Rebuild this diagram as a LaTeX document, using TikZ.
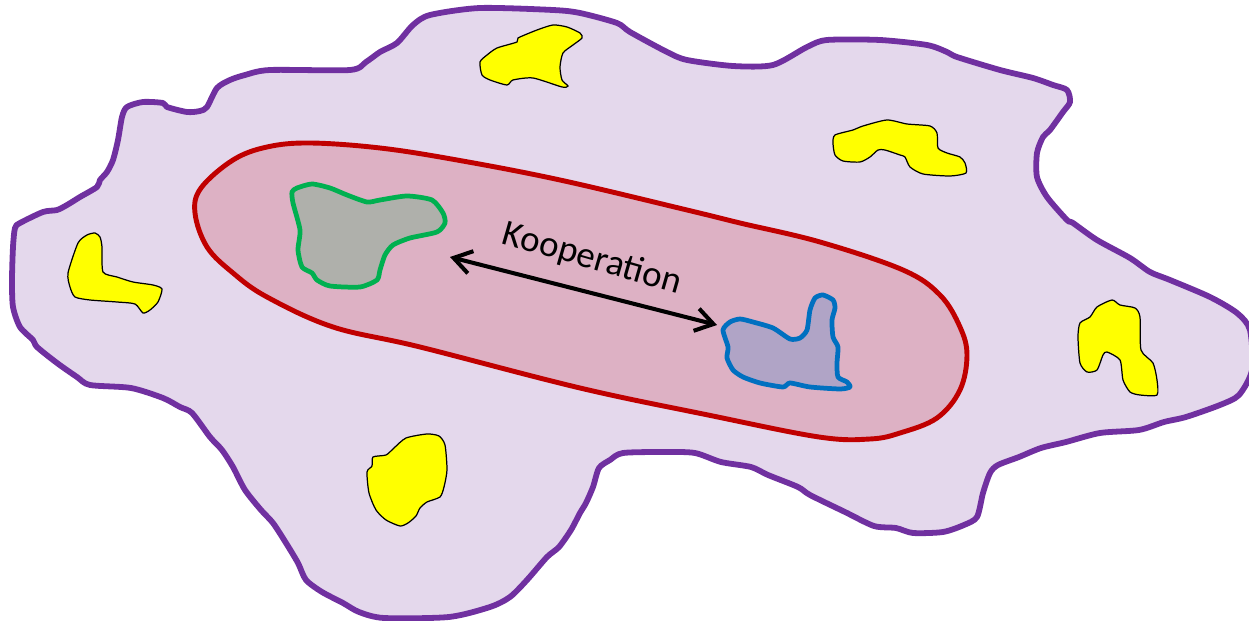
\documentclass[tikz,border=0pt]{standalone}
\usepackage{fontspec}
\setmainfont{Carlito}
\usetikzlibrary{arrows.meta}
\definecolor{outerfill}{HTML}{E4D8EC}
\definecolor{outerline}{HTML}{7030A0}
\definecolor{redfill}{HTML}{DDB1C4}
\definecolor{redline}{HTML}{C00000}
\definecolor{greenline}{HTML}{00B050}
\definecolor{greenfill}{HTML}{AFB0AB}
\definecolor{blueline}{HTML}{0070C0}
\definecolor{bluefill}{HTML}{B0A4C6}
\definecolor{yel}{HTML}{FFFF00}
\tikzset{
  outerarea/.style={fill=outerfill,draw=outerline,line width=3.3pt,line join=round},
  cooparea/.style={fill=redfill,draw=redline,line width=2.8pt},
  greenblob/.style={fill=greenfill,draw=greenline,line width=2.7pt,line join=round},
  blueblob/.style={fill=bluefill,draw=blueline,line width=2.7pt,line join=round},
  yelblob/.style={fill=yel,draw=black,line width=0.7pt},
  coopArrow/.style={line width=2.3pt,{Straight Barb[length=10pt,width=13pt]}-{Straight Barb[length=10pt,width=13pt]}},
  coopLabel/.style={font=\fontsize{21}{25}\selectfont,rotate=-16,inner sep=0pt}
}
\begin{document}
\begin{tikzpicture}[x=0.02cm,y=-0.02cm]
\useasboundingbox (0,0) rectangle (1249,621);
% outer region
\draw[outerarea] plot[smooth cycle,tension=0.45] coordinates {
(122,117)(127,107)(143,102)(163,103)(167,107)(187,112)(200,111)(207,107)(217,88)(230,80)
(245,75)(270,70)(350,70)(366,62)(380,52)(397,43)(413,25)(430,15)(480,8)(553,10)(580,13)
(617,23)(630,32)(667,52)(687,60)(733,66)(773,65)(807,47)(827,40)(880,40)(927,45)(947,52)
(957,57)(1000,70)(1033,78)(1053,85)(1067,90)(1070,102)(1063,112)(1050,130)(1043,137)
(1037,153)(1037,177)(1047,197)(1067,220)(1073,223)(1097,240)(1130,258)(1150,272)(1170,280)
(1210,297)(1237,313)(1250,330)(1252,370)(1239,395)(1220,405)(1186,417)(1164,422)(1139,430)
(1100,433)(1066,442)(1041,448)(1019,457)(998,465)(990,473)(983,493)(977,517)(964,525)
(943,532)(913,533)(896,528)(874,526)(845,512)(810,495)(798,487)(768,475)(751,467)(721,462)
(695,453)(665,452)(623,453)(610,460)(599,468)(593,487)(586,503)(580,513)(571,530)(559,547)
(547,557)(527,580)(510,597)(490,607)(449,617)(384,618)(359,612)(343,603)(322,592)(306,580)
(298,563)(286,543)(273,523)(261,510)(245,490)(233,467)(222,450)(210,437)(192,413)(180,407)
(163,398)(131,388)(90,385)(77,377)(57,363)(37,347)(33,340)(20,327)(13,307)(12,280)(13,247)
(15,228)(20,223)(43,212)(57,210)(67,205)(80,197)(97,187)(100,180)(107,172)(113,160)(118,140)};
% cooperation region
\draw[cooparea] plot[smooth cycle,tension=0.6] coordinates {
(195,213)(201,188)(233,160)(267,147)(310,143)(380,148)(457,160)(560,180)(687,210)(740,223)
(820,242)(903,270)(940,295)(960,327)(967,355)(960,390)(937,418)(900,433)(870,439)(819,437)
(708,415)(580,388)(420,347)(333,327)(267,297)(233,273)(207,247)};
% green blob
\draw[greenblob] plot[smooth cycle,tension=0.4] coordinates {
(292,192)(297,188)(312,184)(330,188)(347,195)(367,202)(380,200)(407,196)(432,200)(443,213)
(445,223)(437,232)(410,238)(393,245)(385,255)(380,270)(377,280)(360,287)(330,286)(317,280)
(312,273)(302,267)(298,250)(300,230)(293,203)};
% blue blob
\draw[blueblob] plot[smooth cycle,tension=0.4] coordinates {
(723,330)(730,322)(740,319)(753,322)(773,328)(790,339)(800,338)(807,330)(810,310)(815,298)
(823,295)(833,300)(835,308)(832,320)(833,337)(838,347)(837,363)(838,377)(847,382)(850,387)
(840,389)(810,387)(790,383)(783,387)(760,383)(743,377)(733,370)(727,358)(728,347)};
% yellow blobs
\draw[yelblob] plot[smooth cycle,tension=0.4] coordinates {
(480,62)(487,55)(497,48)(517,42)(518,38)(537,30)(553,25)(567,27)(580,33)(582,38)(573,45)
(563,53)(560,67)(562,80)(568,86)(562,87)(533,78)(513,80)(507,85)(490,80)(482,75)};
\draw[yelblob] plot[smooth cycle,tension=0.4] coordinates {
(835,135)(853,130)(863,126)(887,120)(907,124)(930,126)(937,133)(938,148)(947,153)(960,157)
(965,163)(966,173)(950,176)(923,174)(910,167)(905,157)(900,155)(885,150)(878,150)(870,157)
(860,162)(843,161)(835,155)(833,143)};
\draw[yelblob] plot[smooth cycle,tension=0.4] coordinates {
(1080,323)(1090,317)(1097,307)(1112,300)(1120,305)(1135,308)(1140,317)(1141,350)(1153,363)
(1157,380)(1157,395)(1140,395)(1130,392)(1123,380)(1120,360)(1107,352)(1103,355)(1097,370)
(1087,372)(1080,363)(1078,337)};
\draw[yelblob] plot[smooth cycle,tension=0.4] coordinates {
(68,273)(78,243)(87,235)(95,233)(100,237)(102,247)(103,272)(117,277)(133,282)(153,285)
(162,289)(158,302)(150,310)(143,313)(135,304)(117,302)(90,300)(75,297)(70,287)};
\draw[yelblob] plot[smooth cycle,tension=0.4] coordinates {
(367,472)(372,466)(373,457)(386,455)(394,448)(406,438)(427,434)(439,436)(445,445)(447,470)
(444,487)(440,497)(427,502)(420,508)(416,516)(408,523)(400,526)(386,520)(376,510)(369,493)};
% cooperation arrow
\coordinate (greenEnd) at (450,257);
\coordinate (blueEnd) at (717,325);
\draw[coopArrow] (greenEnd) -- (blueEnd);
\node[coopLabel] (label) at (592,259) {Kooperation};
\end{tikzpicture}
\end{document}
